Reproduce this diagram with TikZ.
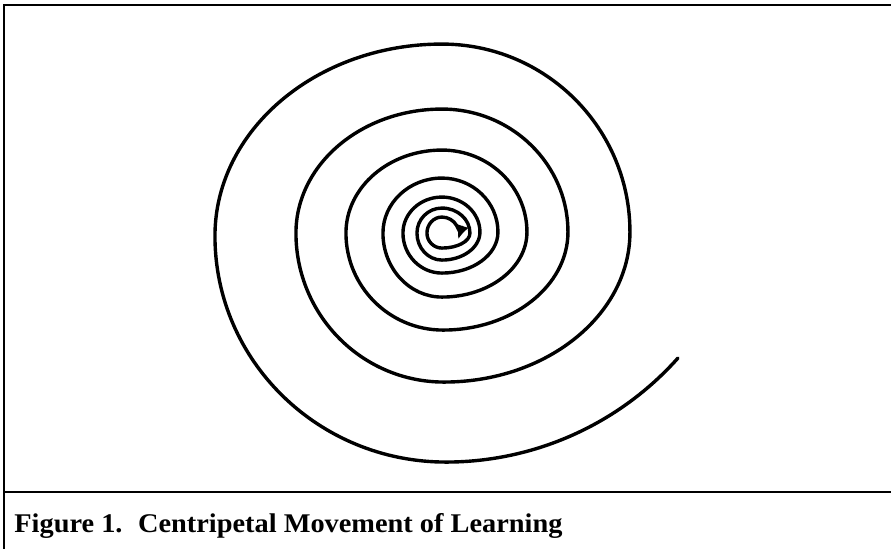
\documentclass[tikz,border=0pt]{standalone}
\usepackage{fontspec}
\setmainfont{Liberation Serif}
\usetikzlibrary{arrows.meta}

\newcommand*{\picw}{891}
\newcommand*{\pich}{548}
\newcommand*{\capline}{492}

\begin{document}
\begin{tikzpicture}
[
	x=0.5pt, y=-0.5pt,
	frameline/.style={line width=1.3pt},
	spiralline/.style={line width=1.7pt,line cap=round,-{Latex[length=7pt,width=6.5pt]}},
	captiontext/.style={anchor=base west,inner sep=0pt,font={\fontsize{13.5pt}{16pt}\selectfont\bfseries}}
]

	\useasboundingbox (0,0) rectangle (\picw,\pich);

	% frame
	\draw[frameline] (4,\pich+5) -- (4,5) -- (\picw+5,5);
	\draw[frameline] (4,\capline) -- (\picw+5,\capline);

	% spiral, outside in, one quarter turn per arc
	\coordinate (spiralstart) at (678,358);
	\draw[spiralline] (spiralstart) arc[start angle=41.7,end angle=90,radius=310.8]
		\foreach \a/\rx/\ry in {90/231/226, 180/227/192, 270/188/188, 360/186/150,
			450/148/149, 540/146/124, 630/126/123, 720/125/98,
			810/97/97, 900/96/83, 990/85/82, 1080/85/65,
			1170/59/64, 1260/59/55, 1350/56/54, 1440/56/41,
			1530/39/40, 1620/39/36, 1710/38/35, 1800/38/28,
			1890/25/27, 1980/25/25, 2070/28/25, 2160/28/15,
			2250/15/15, 2340/15/16}
		{ arc[start angle=\a,end angle=\a+90,x radius=\rx,y radius=\ry] }
		arc[start angle=2430,end angle=2538,radius=17];

	\node[captiontext] (caption) at (14,532) {\scalebox{1.05}[1]{Figure 1.\hspace{0.55em}Centripetal Movement of Learning}};

\end{tikzpicture}
\end{document}
